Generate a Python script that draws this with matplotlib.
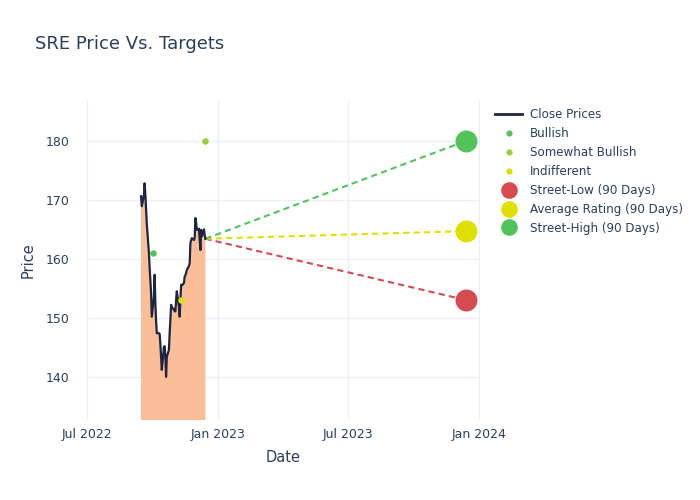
import matplotlib
matplotlib.use("Agg")
import matplotlib.pyplot as plt
import matplotlib.dates as mdates
from matplotlib.lines import Line2D
import pandas as pd

# ---- data ----
price_dates = [
    "2022-09-15", "2022-09-16", "2022-09-19", "2022-09-20", "2022-09-21", "2022-09-22",
    "2022-09-23", "2022-09-26", "2022-09-27", "2022-09-28", "2022-09-29", "2022-09-30",
    "2022-10-03", "2022-10-04", "2022-10-05", "2022-10-06", "2022-10-07", "2022-10-10",
    "2022-10-11", "2022-10-12", "2022-10-13", "2022-10-14", "2022-10-17", "2022-10-18",
    "2022-10-19", "2022-10-20", "2022-10-21", "2022-10-24", "2022-10-25", "2022-10-26",
    "2022-10-27", "2022-10-28", "2022-10-31", "2022-11-01", "2022-11-02", "2022-11-03",
    "2022-11-04", "2022-11-07", "2022-11-08", "2022-11-09", "2022-11-10", "2022-11-11",
    "2022-11-14", "2022-11-15", "2022-11-16", "2022-11-17", "2022-11-18", "2022-11-21",
    "2022-11-22", "2022-11-23", "2022-11-25", "2022-11-28", "2022-11-29", "2022-11-30",
    "2022-12-01", "2022-12-02", "2022-12-05", "2022-12-06", "2022-12-07", "2022-12-08",
    "2022-12-09", "2022-12-12", "2022-12-13", "2022-12-14",
]
close_prices = [
    170.6, 168.9, 170.8, 172.8, 170.8, 168.5,
    166.0, 161.0, 158.5, 156.4, 154.2, 150.2,
    153.6, 157.3, 152.5, 149.5, 147.4, 147.4,
    147.3, 145.5, 143.4, 141.2, 145.1, 145.2,
    143.4, 140.0, 143.4, 144.6, 147.5, 149.7,
    152.2, 151.8, 151.4, 151.1, 151.1, 153.0,
    154.5, 151.9, 150.2, 153.0, 155.6, 155.5,
    155.9, 157.0, 157.2, 157.6, 158.1, 158.8,
    159.3, 162.7, 163.5, 163.2, 163.6, 166.9,
    166.2, 164.9, 165.1, 163.2, 161.5, 164.9,
    163.8, 165.0, 164.0, 163.4,
]

rating_labels = ["Bullish", "Somewhat Bullish", "Indifferent"]
rating_dates = ["2022-10-02", "2022-12-14", "2022-11-10"]
rating_values = [161.0, 180.0, 153.0]
rating_colors = ["#52c25a", "#96d234", "#e0e000"]

target_labels = ["Street-Low (90 Days)", "Average Rating (90 Days)", "Street-High (90 Days)"]
target_start_date = "2022-12-14"
target_end_date = "2023-12-14"
target_values = [153.0, 164.7, 180.0]
target_colors = ["#d64a52", "#e0e000", "#52c25a"]

# ---- plot ----
txt = "#2a3f5f"
grid = "#ebf0f8"
fig = plt.figure(figsize=(7, 5), dpi=100)
ax = fig.add_axes([86 / 700, 80 / 500, 394 / 700, 320 / 500])

pdates = pd.to_datetime(price_dates)
ax.fill_between(pdates, close_prices, 0, color="#fbbe99", lw=0, zorder=1)
ax.plot(pdates, close_prices, color="#1c2541", lw=1.6, zorder=3)

ts = pd.to_datetime(target_start_date)
te = pd.to_datetime(target_end_date)
start_val = close_prices[-1]
for v, c in zip(target_values, target_colors):
    ln, = ax.plot([ts, te], [start_val, v], color=c, lw=1.5, zorder=2)
    ln.set_dashes([3, 2])
    ax.scatter([te], [v], s=250, color=c, zorder=4, linewidths=0)

for d, v, c in zip(rating_dates, rating_values, rating_colors):
    ax.scatter([pd.to_datetime(d)], [v], s=22, color=c, zorder=4, linewidths=0)

ax.set_xlim(pd.Timestamp("2022-06-30"), pd.Timestamp("2024-01-02"))
ax.set_ylim(132.7, 186.9)
ax.set_yticks([140, 150, 160, 170, 180])
xt = pd.to_datetime(["2022-07-01", "2023-01-01", "2023-07-01", "2024-01-01"])
ax.set_xticks(xt)
ax.set_xticklabels(["Jul 2022", "Jan 2023", "Jul 2023", "Jan 2024"])
ax.grid(True, color=grid, lw=1)
ax.set_axisbelow(True)
for s in ax.spines.values():
    s.set_visible(False)
ax.tick_params(length=0, colors=txt, labelsize=9, pad=12)
ax.tick_params(axis="x", pad=6)
ax.set_xlabel("Date", color=txt, fontsize=10.5, labelpad=6)
ax.set_ylabel("Price", color=txt, fontsize=10.5, labelpad=7)

fig.text(35 / 700, 1 - 44 / 500, "SRE Price Vs. Targets", color=txt, fontsize=13,
         va="center", ha="left")

handles = [Line2D([], [], color="#1c2541", lw=2)]
for c in rating_colors:
    handles.append(Line2D([], [], ls="none", marker="o", markersize=4.5, color=c, markeredgewidth=0))
for c in target_colors:
    handles.append(Line2D([], [], ls="none", marker="o", markersize=12, color=c, markeredgewidth=0))
labels = ["Close Prices"] + rating_labels + target_labels
leg = fig.legend(handles, labels, loc="upper left", bbox_to_anchor=(495 / 700, 1 - 108.5 / 500),
                 frameon=False, fontsize=8.6, handlelength=2.3, handletextpad=0.6,
                 labelspacing=0.49, borderaxespad=0, borderpad=0)
for t in leg.get_texts():
    t.set_color(txt)

fig.savefig("out.png", dpi=100)
